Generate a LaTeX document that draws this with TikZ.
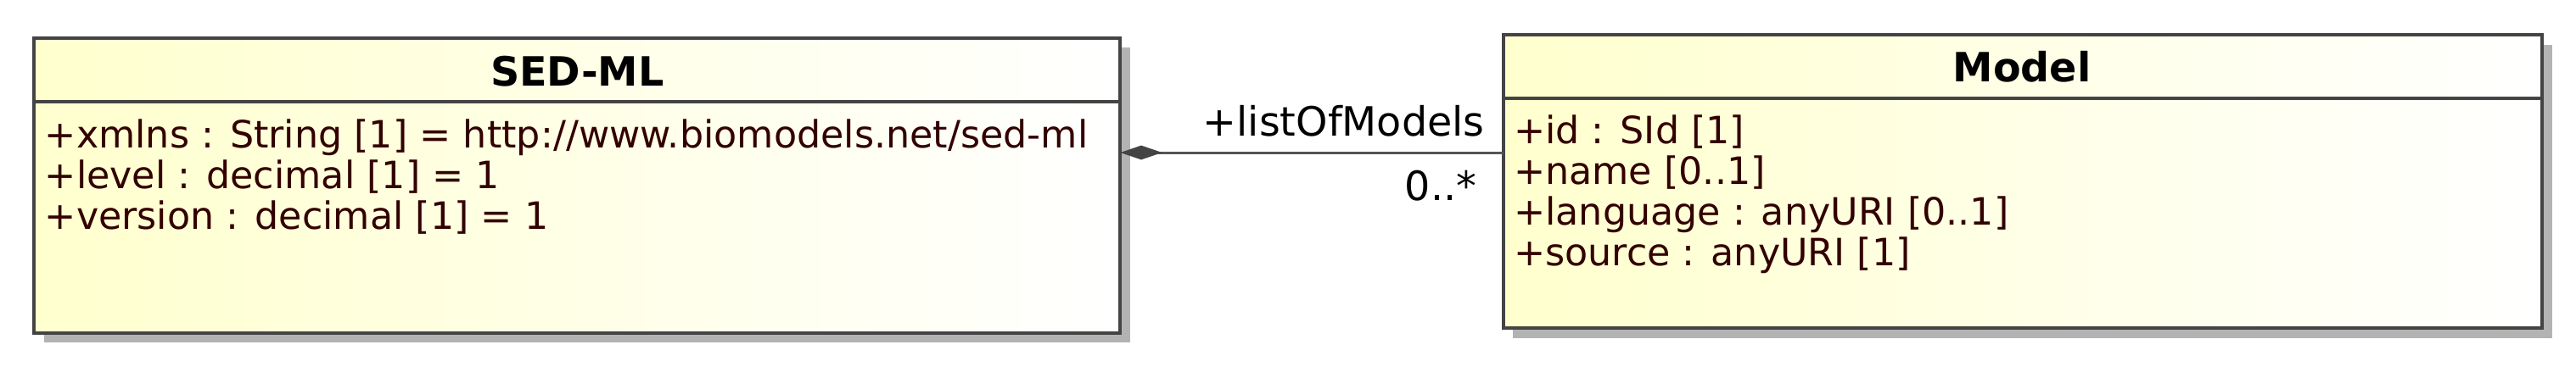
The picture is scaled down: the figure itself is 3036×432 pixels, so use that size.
\documentclass[tikz,border=0pt]{standalone}
\usepackage{fontspec}
\usepackage{xcolor}
\usepackage{tikz}
\usetikzlibrary{arrows.meta,positioning,shadows}
\setmainfont{DejaVu Sans}

\definecolor{umlfill}{RGB}{255,255,206}
\definecolor{umlborder}{RGB}{68,68,68}
\definecolor{umlshadow}{RGB}{179,179,179}
\definecolor{umlattr}{RGB}{51,0,0}
\definecolor{umllink}{RGB}{85,85,85}

\begin{document}
\begin{tikzpicture}[
  x=0.25pt, y=-0.25pt,
  umlclass/.style={draw=umlborder, line width=1pt, left color=umlfill,
    right color=white, inner sep=0pt, outer sep=0pt,
    drop shadow={shadow xshift=2.9pt, shadow yshift=-2.9pt,
      fill=umlshadow, opacity=1}},
  classname/.style={anchor=base, inner sep=0pt,
    font=\fontsize{11.9}{14}\selectfont\bfseries},
  attrs/.style={anchor=north west, inner sep=0pt, align=left,
    text=umlattr, font=\fontsize{11.1}{12}\selectfont},
  rolelabel/.style={anchor=base west, inner sep=0pt,
    font=\fontsize{11.9}{14}\selectfont},
  link/.style={draw=umllink, line width=0.75pt}
]
\useasboundingbox (0,0) rectangle (3036,432);

% classes
\node[umlclass, minimum width=320pt, minimum height=87pt] (sedml) at (680.4,218.5) {};
\node[umlclass, minimum width=306.15pt, minimum height=86.5pt] (model) at (2384,214) {};

\draw[draw=umlborder, line width=1pt] ([yshift=-18.9pt]sedml.north west) -- ([yshift=-18.9pt]sedml.north east);
\draw[draw=umlborder, line width=1pt] ([yshift=-18.8pt]model.north west) -- ([yshift=-18.8pt]model.north east);

\node[classname] (sedmlname) at (680.4,101.7) {SED-ML};
\node[classname] (modelname) at (2383,96.7) {Model};

\node[attrs] (sedmlattrs) at (52,139.6) {+xmlns : String [1] = http://www.biomodels.net/sed-ml\\
  +level : decimal [1] = 1\\
  +version : decimal [1] = 1};
\node[attrs] (modelattrs) at (1783.3,134.6) {+id : SId [1]\\
  +name [0..1]\\
  +language : anyURI [0..1]\\
  +source : anyURI [1]};

% composition
\coordinate (hub) at (0,180);
\draw[link, {Diamond[length=12.3pt,width=4.2pt,color=umlborder]}-] (sedml.east |- hub) -- (model.west |- hub);
\node[rolelabel] (role) at (1417,160) {+listOfModels};
\node[rolelabel] (mult) at (1655,236) {0..*};
\end{tikzpicture}
\end{document}
